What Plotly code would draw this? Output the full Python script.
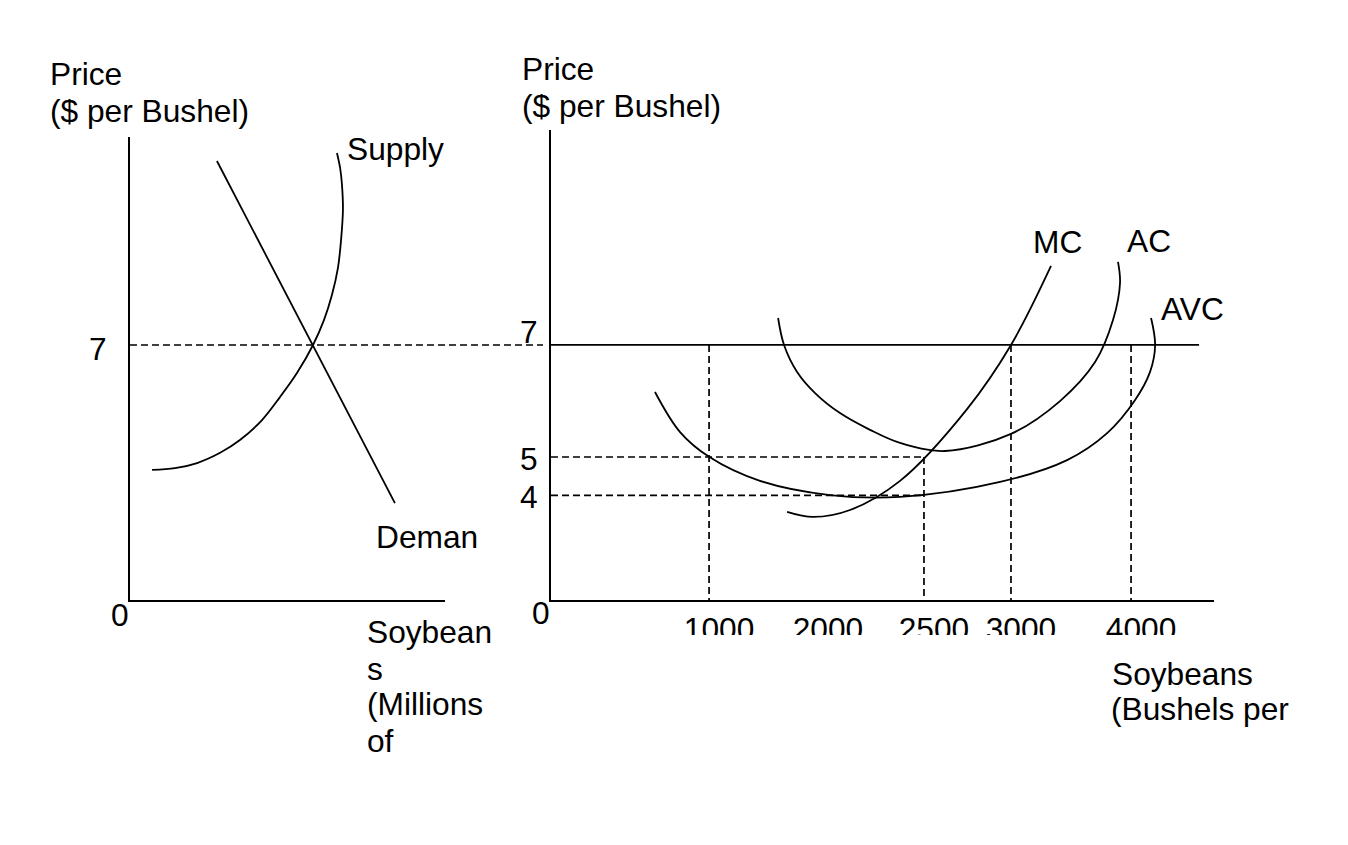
import plotly.graph_objects as go

W, H = 1348, 845
FONT = "Liberation Sans, Arial, sans-serif"
FS = 31.7
BLACK = "#000000"

# ---------------- data: left panel (market) ----------------
# quantity in arbitrary "millions of bushels" units, price in $ per bushel
SUPPLY_Q = [0.70, 1.43, 2.13, 2.86, 3.49, 4.19, 4.76, 5.30, 5.81, 6.16, 6.41, 6.60, 6.70, 6.76, 6.73, 6.67, 6.57]
SUPPLY_P = [3.57, 3.62, 3.76, 4.04, 4.39, 4.94, 5.57, 6.23, 7.00, 7.69, 8.37, 9.11, 9.88, 10.71, 11.39, 11.86, 12.27]
DEMAND_Q = [2.76, 8.41]
DEMAND_P = [12.05, 2.66]
MARKET_PRICE = 7

# ---------------- data: right panel (firm) ----------------
AC_Q = [1566, 1607, 1697, 1821, 1993, 2200, 2407, 2717, 3172, 3510, 3752, 3876, 3924, 3910]
AC_P = [7.74, 7.00, 6.26, 5.68, 5.13, 4.67, 4.31, 4.09, 4.56, 5.46, 6.53, 7.69, 8.70, 9.28]
MC_Q = [1628, 1807, 2062, 2407, 2869, 3172, 3448]
MC_P = [2.42, 2.28, 2.47, 3.27, 5.24, 7.00, 9.17]
AVC_Q = [717, 890, 1090, 1441, 1924, 2407, 3097, 3559, 3835, 4028, 4131, 4166, 4138]
AVC_P = [5.71, 4.61, 3.93, 3.27, 2.88, 2.83, 3.24, 3.84, 4.58, 5.49, 6.26, 7.00, 7.74]

PRICE_LINE_END_Q = 4469          # horizontal price line P = 7
PRICE_LEVEL_LABELS = ["7", "5", "4"]
PRICE_LEVEL_POS = [7.0, 3.925, 2.87]   # where the levels sit on the sketch
H_DASH_P = [3.925, 2.87]
H_DASH_END_Q = [2572, 2572]
V_DASH_Q = [1090, 2572, 3172, 4000]
V_DASH_TOP_P = [7.0, 3.925, 7.0, 7.0]

Q_TICK_TEXT = ["1000", "2000", "2500", "3000", "4000"]
Q_TICK_POS = [1090, 1841, 2572, 3172, 4000]

LEFT_X_RANGE = [0, 10]
LEFT_Y_RANGE = [0, 12.71]
RIGHT_X_RANGE = [0, 4572]
RIGHT_Y_RANGE = [0, 12.90]


def fx(px):
    return px / W


def fy(py):
    return 1 - py / H


fig = go.Figure()

line_style = dict(color=BLACK, width=1.8)
dash_style = dict(color=BLACK, width=1.7, dash="7px,4px")

# left panel curves
fig.add_trace(go.Scatter(x=SUPPLY_Q, y=SUPPLY_P, mode="lines", line=dict(line_style, shape="spline"),
                         xaxis="x", yaxis="y", hoverinfo="skip"))
fig.add_trace(go.Scatter(x=DEMAND_Q, y=DEMAND_P, mode="lines", line=line_style,
                         xaxis="x", yaxis="y", hoverinfo="skip"))

# right panel curves
for qs, ps in [(AC_Q, AC_P), (MC_Q, MC_P), (AVC_Q, AVC_P)]:
    fig.add_trace(go.Scatter(x=qs, y=ps, mode="lines", line=dict(line_style, shape="spline"),
                             xaxis="x2", yaxis="y2", hoverinfo="skip"))

fig.add_trace(go.Scatter(x=[0, PRICE_LINE_END_Q], y=[MARKET_PRICE, MARKET_PRICE], mode="lines",
                         line=line_style, xaxis="x2", yaxis="y2", hoverinfo="skip"))

for p, qend in zip(H_DASH_P, H_DASH_END_Q):
    fig.add_trace(go.Scatter(x=[0, qend], y=[p, p], mode="lines", line=dash_style,
                             xaxis="x2", yaxis="y2", hoverinfo="skip"))
for q, ptop in zip(V_DASH_Q, V_DASH_TOP_P):
    fig.add_trace(go.Scatter(x=[q, q], y=[ptop, 0], mode="lines", line=dash_style,
                             xaxis="x2", yaxis="y2", hoverinfo="skip"))

# left dashed price line running across to the firm's diagram
fig.add_shape(type="line", xref="x domain", yref="y", x0=0, x1=(543 - 130) / (445 - 130),
              y0=MARKET_PRICE, y1=MARKET_PRICE, line=dash_style, layer="above")

# white band that crops the bottom of the quantity labels (as in the original)
fig.add_shape(type="rect", xref="paper", yref="paper", x0=fx(660), x1=fx(1205),
              y0=fy(662), y1=fy(635), fillcolor="white", line=dict(width=0), layer="above")

ann = []


def text(t, x, y, xanchor="left", xref="paper", yref="paper", yshift=0):
    ann.append(dict(text=t, x=x, y=y, xref=xref, yref=yref, xanchor=xanchor, yanchor="middle",
                    showarrow=False, borderpad=0, borderwidth=0, yshift=yshift,
                    font=dict(family=FONT, size=FS, color=BLACK)))


# axis titles
text("Price", fx(50), fy(74))
text("($ per Bushel)", fx(50), fy(111))
text("Price", fx(522), fy(69))
text("($ per Bushel)", fx(522), fy(106))
for t, y in zip(["Soybean", "s", "(Millions", "of"], [632, 669, 704, 741]):
    text(t, fx(367), fy(y))
text("Soybeans", fx(1111.5), fy(674))
text("(Bushels per", fx(1111), fy(709))

# curve labels
text("Supply", fx(346.5), fy(149))
text("Deman", fx(376), fy(537))
text("MC", fx(1033), fy(242))
text("AC", fx(1127), fy(241))
text("AVC", fx(1161), fy(309))

# price level labels
text("7", fx(98), MARKET_PRICE, xanchor="center", yref="y", yshift=-4)
for lab, pos, sh in zip(PRICE_LEVEL_LABELS, PRICE_LEVEL_POS, [13, -2, -1.5]):
    text(lab, fx(529), pos, xanchor="center", yref="y2", yshift=sh)
text("0", fx(120), 0, xanchor="center", yref="y", yshift=-15)
text("0", fx(541), 0, xanchor="center", yref="y2", yshift=-12.5)

axis_common = dict(showgrid=False, zeroline=False, showline=True, linecolor=BLACK, linewidth=2,
                   ticks="", fixedrange=True)

fig.update_layout(
    width=W, height=H,
    margin=dict(l=0, r=0, t=0, b=0),
    paper_bgcolor="white", plot_bgcolor="white",
    showlegend=False,
    font=dict(family=FONT, size=FS, color=BLACK),
    xaxis=dict(axis_common, domain=[fx(130), fx(445)], range=LEFT_X_RANGE, showticklabels=False,
               anchor="y"),
    yaxis=dict(axis_common, domain=[fy(600), fy(137)], range=LEFT_Y_RANGE, showticklabels=False,
               anchor="x"),
    xaxis2=dict(axis_common, domain=[fx(551), fx(1214)], range=RIGHT_X_RANGE, anchor="y2",
                tickmode="array", tickvals=Q_TICK_POS, ticktext=Q_TICK_TEXT,
                ticklabelshift=10, ticklabelstandoff=0,
                tickfont=dict(family=FONT, size=FS, color=BLACK)),
    yaxis2=dict(axis_common, domain=[fy(600), fy(130)], range=RIGHT_Y_RANGE, showticklabels=False,
                anchor="x2"),
    annotations=ann,
)

fig.write_html("out.html")
